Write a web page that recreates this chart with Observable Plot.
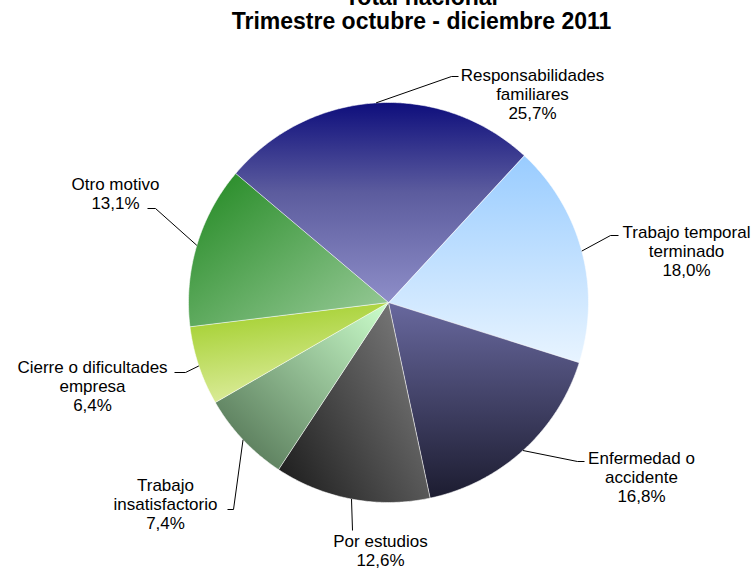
<!DOCTYPE html>
<html>
<head>
<meta charset="utf-8">
<script src="https://cdn.jsdelivr.net/npm/d3@7"></script>
<script src="https://cdn.jsdelivr.net/npm/@observablehq/plot@0.6"></script>
<style>
  html, body { margin: 0; padding: 0; background: #ffffff; }
  #chart { width: 753px; height: 569px; overflow: hidden; }
</style>
</head>
<body>
<div id="chart"></div>
<script>
// ---------- DATA ----------
const titleLines = ["Total nacional", "Trimestre octubre - diciembre 2011"];
const categories = [
  "Trabajo temporal terminado",
  "Enfermedad o accidente",
  "Por estudios",
  "Trabajo insatisfactorio",
  "Cierre o dificultades empresa",
  "Otro motivo",
  "Responsabilidades familiares"
];
const labelLines = [
  ["Trabajo temporal", "terminado"],
  ["Enfermedad o", "accidente"],
  ["Por estudios"],
  ["Trabajo", "insatisfactorio"],
  ["Cierre o dificultades", "empresa"],
  ["Otro motivo"],
  ["Responsabilidades", "familiares"]
];
const values = [18.0, 16.8, 12.6, 7.4, 6.4, 13.1, 25.7];
const valueLabels = values.map(v => v.toFixed(1).replace(".", ",") + "%");

// ---------- STYLE / LAYOUT ----------
const W = 753, H = 569, CX = 388, CY = 302, R = 200;
const START = 42.7 * Math.PI / 180;
const FONT = "'Liberation Sans', Arial, Helvetica, sans-serif";
const gradientStops = [
  [[0, "#99ccff"], [1, "#e8f4ff"]],
  [[0, "#68689e"], [1, "#1c1c30"]],
  [[0, "#7c7c7c"], [1, "#202020"]],
  [[0, "#ccffcc"], [1, "#4a6a4c"]],
  [[0, "#9ccc20"], [1, "#dcec9c"]],
  [[0, "#208820"], [1, "#9ccc9c"]],
  [[0, "#0e0e7c"], [0.45, "#5c5c9e"], [1, "#8e8ec8"]]
];
const gradientVectors = [
  [0, 0, 0, 1],
  [0, 0, 0, 1],
  [1, 0.2, 0.05, 0.9],
  [1, 0, 0, 1],
  [0, 0, 0.3, 1],
  [0, 0, 1, 1],
  [0, 0, 0, 1]
];
// label layout (page pixels): text center x, first baseline, elbow x/y, end x
const labelLayout = [
  {tx: 686, base: 237, ex: 610, ey: 235, hx: 618},
  {tx: 641, base: 463, ex: 577, ey: 461, hx: 584},
  {tx: 380, base: 546, ex: 352, ey: 530, hx: 352},
  {tx: 165, base: 490, ex: 233, ey: 509, hx: 227},
  {tx: 92,  base: 372, ex: 185, ey: 372, hx: 174},
  {tx: 115, base: 189, ex: 155, ey: 208, hx: 147},
  {tx: 532, base: 80,  ex: 451, ey: 76,  hx: 458}
];
const LINE = 19.2;
const titleLayout = {x: 421, base: 4, step: 24};

// ---------- GEOMETRY FROM DATA ----------
const arcs = d3.pie().sort(null).startAngle(START).endAngle(START + 2 * Math.PI)(values);
const pt = (a, r) => ({x: r * Math.sin(a), y: -r * Math.cos(a)});

const slices = arcs.map((a, i) => {
  const pts = [{x: 0, y: 0}];
  const n = Math.max(4, Math.ceil((a.endAngle - a.startAngle) / (Math.PI / 360)));
  for (let k = 0; k <= n; ++k) {
    pts.push(pt(a.startAngle + (a.endAngle - a.startAngle) * k / n, R));
  }
  return pts;
});

const leaderRows = [];
arcs.forEach((a, i) => {
  const mid = (a.startAngle + a.endAngle) / 2;
  const L = labelLayout[i];
  const e = pt(mid, R);
  leaderRows.push({k: i, x: e.x, y: e.y});
  leaderRows.push({k: i, x: L.ex - CX, y: L.ey - CY});
  leaderRows.push({k: i, x: L.hx - CX, y: L.ey - CY});
});

const textRows = [];
categories.forEach((c, i) => {
  const L = labelLayout[i];
  const lines = [...labelLines[i], valueLabels[i]];
  lines.forEach((t, j) => textRows.push({x: L.tx - CX, y: L.base + j * LINE - CY, t}));
});

const titleRows = titleLines.map((t, j) => ({x: titleLayout.x - CX, y: titleLayout.base + j * titleLayout.step - CY, t}));

// ---------- PLOT ----------
const svg = Plot.plot({
  width: W,
  height: H,
  margin: 0,
  style: {fontFamily: FONT, background: "#ffffff", color: "#000000"},
  x: {domain: [-CX, W - CX], range: [0, W], axis: null},
  y: {domain: [-CY, H - CY], range: [0, H], axis: null},
  marks: [
    ...slices.map((s, i) => Plot.line(s, {
      x: "x", y: "y", curve: "linear-closed",
      fill: `url(#slice-grad-${i})`,
      stroke: "#ffffff", strokeOpacity: 0.7, strokeWidth: 0.8, strokeLinejoin: "miter"
    })),
    Plot.line(leaderRows, {x: "x", y: "y", z: "k", stroke: "#000000", strokeWidth: 1, strokeLinejoin: "miter", strokeLinecap: "butt"}),
    Plot.text(textRows, {x: "x", y: "y", text: "t", lineAnchor: "bottom", textAnchor: "middle", fontSize: 17, fontFamily: FONT, fill: "#000000"}),
    Plot.text(titleRows, {x: "x", y: "y", text: "t", lineAnchor: "bottom", textAnchor: "middle", fontSize: 23, fontWeight: "bold", fontFamily: FONT, fill: "#000000"})
  ]
});

const ns = "http://www.w3.org/2000/svg";
const defs = document.createElementNS(ns, "defs");
gradientStops.forEach((stops, i) => {
  const g = document.createElementNS(ns, "linearGradient");
  g.setAttribute("id", `slice-grad-${i}`);
  const [x1, y1, x2, y2] = gradientVectors[i];
  g.setAttribute("x1", x1); g.setAttribute("y1", y1);
  g.setAttribute("x2", x2); g.setAttribute("y2", y2);
  stops.forEach(([o, c]) => {
    const s = document.createElementNS(ns, "stop");
    s.setAttribute("offset", o);
    s.setAttribute("stop-color", c);
    g.appendChild(s);
  });
  defs.appendChild(g);
});
svg.insertBefore(defs, svg.firstChild);
document.getElementById("chart").appendChild(svg);
</script>
</body>
</html>
